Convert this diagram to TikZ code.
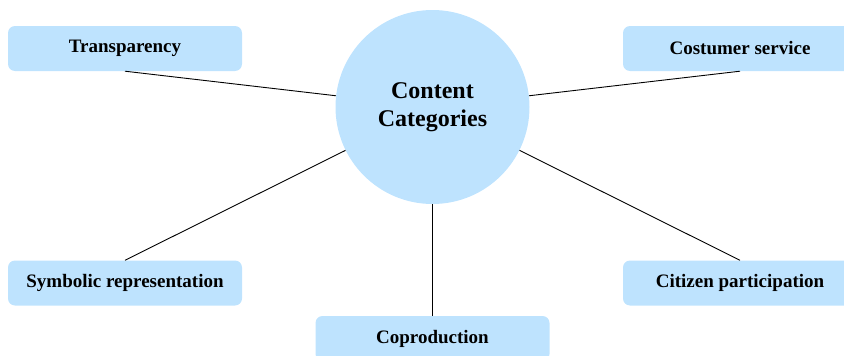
\documentclass[tikz,border=0pt]{standalone}
\usepackage{fontspec}
\setmainfont{Liberation Serif}
\usepackage{xcolor}
\usepackage{tikz}

\definecolor{hubblue}{RGB}{190,227,254}

\begin{document}
\begin{tikzpicture}[
      x=1pt, y=-1pt,
      hub/.style={
        circle, fill=hubblue, minimum size=194pt, inner sep=0pt,
        align=center, font=\fontsize{24}{28}\selectfont\bfseries},
      topic/.style={
        rectangle, rounded corners=7pt, fill=hubblue,
        minimum width=234pt, minimum height=45pt, inner sep=0pt,
        align=center, font=\fontsize{19}{23}\selectfont\bfseries},
      link/.style={black, line width=0.9pt}
    ]
    \useasboundingbox (0,0) rectangle (844,356);
    \clip (0,0) rectangle (844,356);

    % --- Centre ---
    \node[hub] (content) at (432.5,107) {Content\\Categories};

    % --- Categories ---
    \node[topic] (transp) at (125,48.5)   {Transparency};
    \node[topic] (service) at (740,48.5)  {Costumer service};
    \node[topic] (symbol) at (125,283)    {Symbolic representation};
    \node[topic] (citizen) at (740,283)   {Citizen participation};
    \node[topic] (coprod) at (432.5,338.5) {Coproduction};

    % --- Spokes ---
    \draw[link] (transp.south)  -- (content);
    \draw[link] (service.south) -- (content);
    \draw[link] (symbol.north)  -- (content);
    \draw[link] (citizen.north) -- (content);
    \draw[link] (coprod.north)  -- (content);
  \end{tikzpicture}
\end{document}
